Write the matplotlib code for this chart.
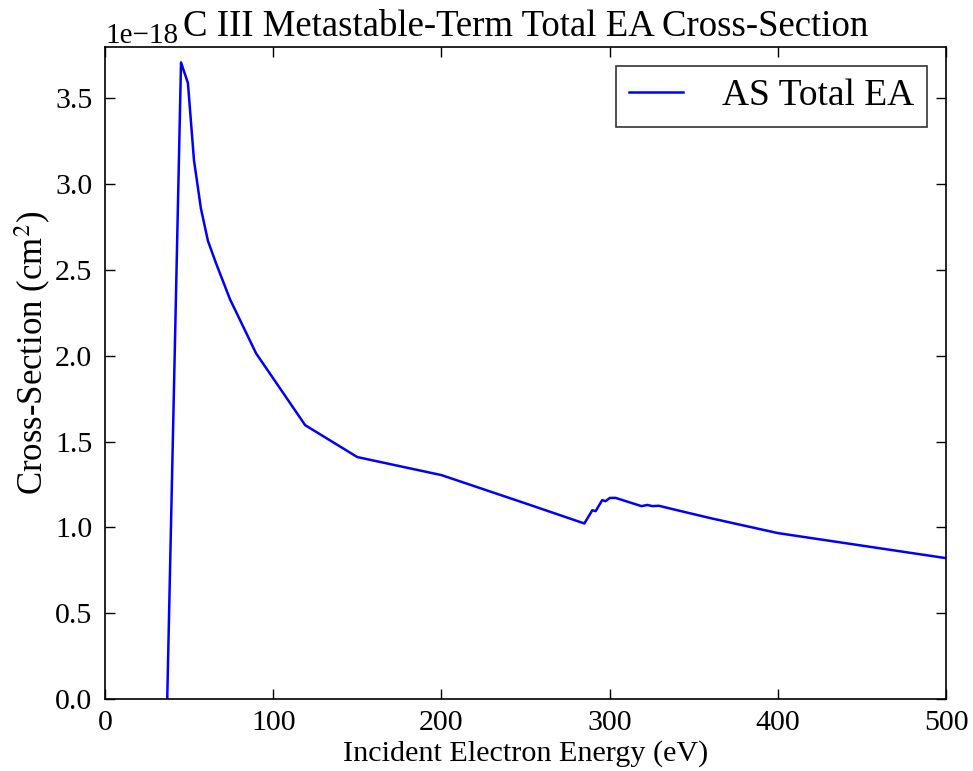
import matplotlib
matplotlib.use("Agg")
import matplotlib.pyplot as plt

energy = [37, 45.2, 49.3, 52.9, 57, 61.2, 66, 74.3, 89.8, 119, 150, 200, 250, 285,
          289.7, 291.7, 295.6, 297.6, 300.2, 303.6, 319, 322.4, 325.4, 329.4, 336,
          360, 400, 500]
xsec = [0.0, 3.71, 3.59, 3.14, 2.86, 2.67, 2.54, 2.33, 2.015, 1.596, 1.41, 1.305, 1.14, 1.023,
        1.10, 1.095, 1.159, 1.153, 1.172, 1.172, 1.124, 1.131, 1.124, 1.126, 1.11,
        1.054, 0.967, 0.821]
xsec = [v * 1e-18 for v in xsec]

plt.rcParams['font.family'] = ['Liberation Serif', 'DejaVu Serif']
plt.rcParams['mathtext.fontset'] = 'stix'

fig = plt.figure(figsize=(9.73, 7.71), dpi=100)
ax = fig.add_axes([105/973, 1-699/771, (946-105)/973, (699-47)/771])
ax.plot(energy, xsec, color='#0000ff', lw=1.8, label='AS Total EA')
ax.set_xlim(0, 500)
ax.set_ylim(0, 3.8e-18)
ax.set_xticks([0, 100, 200, 300, 400, 500])
ax.set_yticks([i * 0.5e-18 for i in range(8)])
ax.tick_params(direction='in', top=True, right=True, length=7, width=1, labelsize=21.5)
ax.tick_params(axis='x', pad=8)
ax.tick_params(axis='y', pad=9)
ax.yaxis.get_offset_text().set_fontsize(21)
for s in ax.spines.values():
    s.set_linewidth(1.2)
ax.set_xlabel('Incident Electron Energy (eV)', fontsize=21.7, labelpad=3)
ax.set_ylabel(r'Cross-Section (cm$^2$)', fontsize=25)
ax.yaxis.set_label_coords(-0.062, 0.53)
ax.set_title('C III Metastable-Term Total EA Cross-Section', fontsize=26.5, pad=8)
leg = ax.legend(loc='upper right', fontsize=27, fancybox=False, edgecolor='black',
                handlelength=1.42, handletextpad=1.05, borderpad=0.35, borderaxespad=0.5)
leg.get_frame().set_linewidth(1.2)
fig.savefig('out.png', dpi=100, facecolor='white')
